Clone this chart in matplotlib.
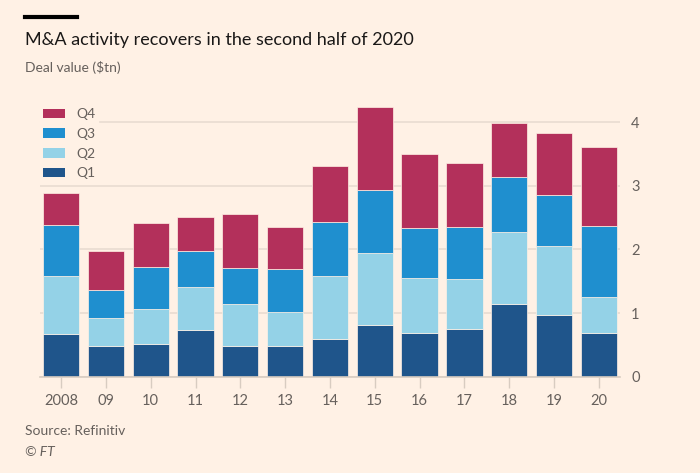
import numpy as np
import matplotlib
matplotlib.use("Agg")
import matplotlib.pyplot as plt
from matplotlib.patches import Patch

# cumulative tops ($tn)
years = ["2008", "09", "10", "11", "12", "13", "14", "15", "16", "17", "18", "19", "20"]
cum_q1 = [0.67, 0.48, 0.51, 0.73, 0.49, 0.49, 0.60, 0.82, 0.69, 0.75, 1.15, 0.97, 0.69]
cum_q2 = [1.58, 0.92, 1.06, 1.41, 1.15, 1.02, 1.59, 1.94, 1.55, 1.54, 2.27, 2.06, 1.25]
cum_q3 = [2.38, 1.37, 1.73, 1.97, 1.71, 1.69, 2.43, 2.93, 2.34, 2.35, 3.13, 2.86, 2.37]
cum_q4 = [2.88, 1.98, 2.42, 2.51, 2.55, 2.35, 3.31, 4.24, 3.50, 3.35, 3.98, 3.82, 3.61]

q1 = np.array(cum_q1)
q2 = np.array(cum_q2) - np.array(cum_q1)
q3 = np.array(cum_q3) - np.array(cum_q2)
q4 = np.array(cum_q4) - np.array(cum_q3)

BG = "#fff1e5"
C_Q1 = "#1f558b"
C_Q2 = "#94d2e7"
C_Q3 = "#1f8fcf"
C_Q4 = "#b3305b"
GRID = "#e9dcd1"
TXT = "#66605c"

plt.rcParams['font.family'] = ['Lato', 'DejaVu Sans']

fig = plt.figure(figsize=(7, 4.73), dpi=100, facecolor=BG)
ax = fig.add_axes([0.0571, 0.2030, 0.8286, 0.5795], facecolor=BG)

x = np.arange(len(years))
w = 0.81
ax.bar(x, q1, w, color=C_Q1, edgecolor=BG, linewidth=0.5, zorder=3)
ax.bar(x, q2, w, bottom=q1, color=C_Q2, edgecolor=BG, linewidth=0.5, zorder=3)
ax.bar(x, q3, w, bottom=q1 + q2, color=C_Q3, edgecolor=BG, linewidth=0.5, zorder=3)
ax.bar(x, q4, w, bottom=q1 + q2 + q3, color=C_Q4, edgecolor=BG, linewidth=0.5, zorder=3)

ax.set_xlim(-0.47, 12.47)
ax.set_ylim(0, 4.3)
ax.set_yticks([0, 1, 2, 3, 4])
ax.yaxis.tick_right()
ax.yaxis.grid(True, color=GRID, linewidth=1.2, zorder=0)
ax.tick_params(axis='y', length=0, pad=8, labelsize=10.5, labelcolor=TXT)
ax.set_xticks(x)
ax.set_xticklabels(years)
ax.tick_params(axis='x', length=8, width=1, color="#d8ccc1", pad=4,
               labelsize=10.5, labelcolor=TXT)
for s in ["top", "right", "left"]:
    ax.spines[s].set_visible(False)
ax.spines["bottom"].set_color("#d8ccc1")
ax.spines["bottom"].set_linewidth(1.2)
ax.spines["bottom"].set_zorder(4)

handles = [Patch(facecolor=C_Q4), Patch(facecolor=C_Q3),
           Patch(facecolor=C_Q2), Patch(facecolor=C_Q1)]
leg = ax.legend(handles, ["Q4", "Q3", "Q2", "Q1"], loc="upper left",
                bbox_to_anchor=(-0.005, 1.0), frameon=True, facecolor=BG,
                edgecolor=BG, framealpha=1, fontsize=10, handlelength=1.6,
                handleheight=0.7, handletextpad=0.8, labelspacing=0.55,
                borderpad=0.2, borderaxespad=0.2)
for t in leg.get_texts():
    t.set_color(TXT)
leg.set_zorder(5)

# FT header bar and texts
fig.add_artist(plt.Line2D([25 / 700, 77 / 700], [1 - 17 / 473, 1 - 17 / 473],
                          color="black", linewidth=3))
fig.text(25 / 700, 1 - 40 / 473, "M&A activity recovers in the second half of 2020",
         fontsize=13, color="#1a1817", va="center", ha="left")
fig.text(25 / 700, 1 - 67 / 473, "Deal value ($tn)", fontsize=10,
         color=TXT, va="center", ha="left")
fig.text(25 / 700, 1 - 431 / 473, "Source: Refinitiv", fontsize=10,
         color=TXT, va="center", ha="left")
fig.text(25 / 700, 1 - 452 / 473, "© FT", fontsize=10, style="italic",
         color=TXT, va="center", ha="left")

fig.savefig("out.png", dpi=100, facecolor=BG)
